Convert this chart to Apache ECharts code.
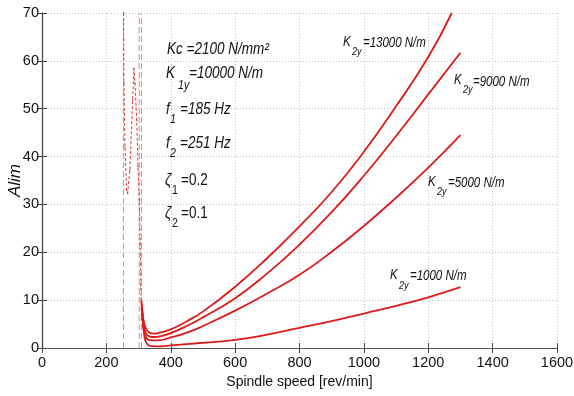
<!DOCTYPE html>
<html>
<head>
<meta charset="utf-8">
<script src="https://cdn.jsdelivr.net/npm/echarts@6/dist/echarts.min.js"></script>
<style>html,body{margin:0;padding:0;background:#fff}#c{width:574px;height:396px}</style>
</head>
<body>
<div id="c"></div>
<script>
// ---- data ----
const xTicks = [0, 200, 400, 600, 800, 1000, 1200, 1400, 1600];
const yTicks = [0, 10, 20, 30, 40, 50, 60, 70];

const speedK13000 = [309, 315, 322, 332, 345, 365, 400, 450, 500, 600, 700, 800, 900, 1000, 1100, 1200, 1273];
const alimK13000  = [10, 6, 4.2, 3.3, 3.0, 3.2, 3.9, 5.6, 7.6, 12.8, 18.8, 25.4, 32.6, 41.0, 50.5, 60.8, 70];

const speedK9000 = [310, 316, 323, 335, 350, 370, 400, 450, 500, 600, 700, 800, 900, 1000, 1100, 1200, 1300];
const alimK9000  = [9, 4.8, 3.0, 2.4, 2.3, 2.5, 3.1, 4.6, 6.4, 10.4, 15.6, 21.6, 28.4, 36.0, 44.3, 53.0, 61.7];

const speedK5000 = [311, 317, 325, 340, 360, 400, 450, 500, 600, 700, 800, 900, 1000, 1100, 1200, 1300];
const alimK5000  = [8, 3.5, 2.0, 1.6, 1.6, 2.2, 3.2, 4.6, 7.8, 11.4, 15.3, 20.1, 25.5, 31.4, 37.7, 44.5];

const speedK1000 = [312, 318, 326, 340, 370, 400, 500, 600, 700, 800, 900, 1000, 1100, 1200, 1300];
const alimK1000  = [7, 2.5, 0.9, 0.4, 0.35, 0.55, 1.1, 1.7, 2.8, 4.2, 5.6, 7.2, 8.8, 10.6, 12.7];

const speedUnstable = [253.5, 254.5, 257.8, 262.8, 266, 273, 281.5, 285.6, 288.9, 294.2, 298.2, 302.3, 305, 307, 309];
const alimUnstable  = [70, 55.6, 42, 33, 32.3, 37.2, 51.8, 58.4, 55.3, 47.6, 37.9, 30.9, 22, 13, 6];

const boundarySpeeds = [253, 302, 309];

const curveLabels = ['=13000 N/m', '=9000 N/m', '=5000 N/m', '=1000 N/m'];

// ---- chart ----
const pairs = (xs, ys) => xs.map((x, i) => [x, ys[i]]);
const RED = '#dd1a1a';
const FONT = "'Liberation Sans', Arial, sans-serif";

const solid = (name, xs, ys) => ({
  name, type: 'line', data: pairs(xs, ys), showSymbol: false, smooth: 0.5,
  lineStyle: { color: RED, width: 1.8 }, z: 5
});

const series = [
  solid('K13000', speedK13000, alimK13000),
  solid('K9000', speedK9000, alimK9000),
  solid('K5000', speedK5000, alimK5000),
  solid('K1000', speedK1000, alimK1000),
  { name: 'unstable', type: 'line', data: pairs(speedUnstable, alimUnstable), showSymbol: true,
    symbol: 'circle', symbolSize: 1.5, itemStyle: { color: '#d23030' },
    lineStyle: { color: '#d84040', width: 1, type: [3, 2] }, z: 4 }
];
boundarySpeeds.forEach((s, i) => {
  series.push({ name: 'b' + i, type: 'line', data: [[s, 0], [s, 70]], showSymbol: false,
    lineStyle: { color: '#e08c8c', width: 1, type: [6, 3] }, z: 3 });
});

const SX = 0.82;
const txt = (x, y, text, size, italic) => ({
  type: 'text', x, y, z: 100, scaleX: SX,
  style: { text, fontSize: size, fontStyle: italic ? 'italic' : 'normal', fontFamily: FONT,
    fill: '#111', verticalAlign: 'middle', align: 'left' }
});

const graphic = [
  txt(167, 49, 'Kc =2100 N/mm²', 16.5, true),
  txt(166, 73, 'K', 16.5, true), txt(178, 85, '1y', 13, true), txt(189, 73, '=10000 N/m', 16.5, true),
  txt(166, 109, 'f', 16.5, true), txt(170, 119, '1', 13, true), txt(180, 109, '=185 Hz', 16.5, true),
  txt(166, 143, 'f', 16.5, true), txt(170, 153, '2', 13, true), txt(180, 143, '=251 Hz', 16.5, true),
  txt(165, 180, 'ζ', 16.5, true), txt(172, 190, '1', 13, false), txt(181, 180, '=0.2', 16.5, false),
  txt(165, 213, 'ζ', 16.5, true), txt(172, 223, '2', 13, false), txt(181, 213, '=0.1', 16.5, false),

  txt(343, 42, 'K', 14, true), txt(352, 52, '2y', 11, true), txt(363, 43, curveLabels[0], 14, true),
  txt(454, 80, 'K', 14, true), txt(463, 90, '2y', 11, true), txt(473, 82, curveLabels[1], 14, true),
  txt(428, 182, 'K', 14, true), txt(437, 192, '2y', 11, true), txt(448, 183, curveLabels[2], 14, true),
  txt(390, 275, 'K', 14, true), txt(399, 286, '2y', 11, true), txt(410, 276, curveLabels[3], 14, true)
];

const axisLineStyle = { show: true, lineStyle: { color: '#555', width: 1.2 } };
const tickStyle = { show: true, inside: true, length: 5, lineStyle: { color: '#444' } };
const labelFont = { fontFamily: FONT, fontSize: 14.5, color: '#111' };

const option = {
  animation: false,
  grid: { left: 42, right: 17, top: 13, bottom: 48, containLabel: false, outerBoundsMode: 'none' },
  xAxis: [
    { type: 'value', min: 0, max: 1600, interval: 200, position: 'bottom',
      axisLine: axisLineStyle, axisTick: tickStyle,
      axisLabel: Object.assign({ margin: 7, formatter: v => xTicks.includes(v) ? String(v) : '' }, labelFont),
      splitLine: { show: true, lineStyle: { color: '#c0c0c0', type: [1, 2], width: 1 } },
      name: 'Spindle speed [rev/min]', nameLocation: 'middle', nameGap: 27, nameMoveOverlap: false,
      nameTextStyle: { fontFamily: FONT, fontSize: 14, color: '#111' } },
    { type: 'value', min: 0, max: 1600, interval: 200, position: 'top',
      axisLine: axisLineStyle, axisTick: tickStyle, axisLabel: { show: false }, splitLine: { show: false } }
  ],
  yAxis: [
    { type: 'value', min: 0, max: 70, interval: 10, position: 'left',
      axisLine: axisLineStyle, axisTick: tickStyle,
      axisLabel: Object.assign({ margin: 3, formatter: v => yTicks.includes(v) ? String(v) : '' }, labelFont),
      splitLine: { show: true, lineStyle: { color: '#c0c0c0', type: [1, 2], width: 1 } },
      name: 'Alim', nameLocation: 'middle', nameGap: 18, nameMoveOverlap: false,
      nameTextStyle: { fontFamily: FONT, fontSize: 17, fontStyle: 'italic', color: '#111' } },
    { type: 'value', min: 0, max: 70, interval: 10, position: 'right',
      axisLine: axisLineStyle, axisTick: tickStyle, axisLabel: { show: false }, splitLine: { show: false } }
  ],
  series,
  graphic
};

const chart = echarts.init(document.getElementById('c'), null, { renderer: 'canvas' });
chart.setOption(option);
</script>
</body>
</html>
